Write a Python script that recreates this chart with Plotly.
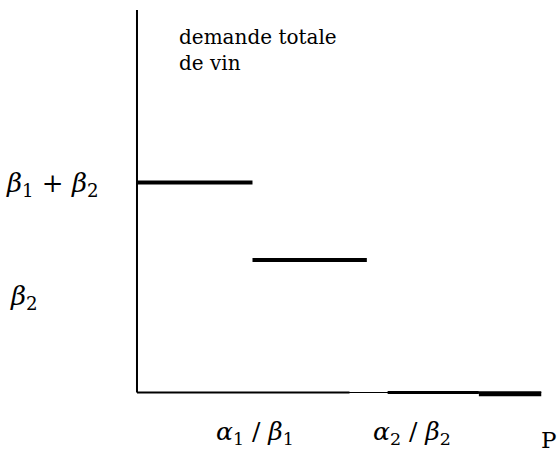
import plotly.graph_objects as go

# ---- data (price breakpoints and demand levels) ----
price_breaks = [0.0, 1.0, 2.0]          # 0, alpha1/beta1, alpha2/beta2
demand_levels = [2.1, 1.325, 0.0]       # beta1+beta2, beta2, 0
step1_x = [0.0, 1.0]
step2_x = [1.0, 1.99]
step3a_x = [2.17, 2.96]
step3b_x = [2.96, 3.5]
axis_x_thick = [0.0, 1.84]
axis_x_full = [0.0, 3.5]
axis_y_top = 3.825
x_range = [-1.186, 3.645]
y_range = [-0.625, 3.925]

label_y_top = "<i>β</i><sub>1</sub> + <i>β</i><sub>2</sub>"
label_y_mid = "<i>β</i><sub>2</sub>"
label_x1 = "<i>α</i><sub>1</sub> / <i>β</i><sub>1</sub>"
label_x2 = "<i>α</i><sub>2</sub> / <i>β</i><sub>2</sub>"
label_p = "P"
title_text = "demande totale<br>de vin"

SERIF = "DejaVu Serif"

fig = go.Figure()

def seg(xs, ys, w):
    fig.add_trace(go.Scatter(x=xs, y=ys, mode="lines",
                             line=dict(color="black", width=w),
                             hoverinfo="skip", showlegend=False))

# axes
seg([0.0, 0.0], [0.0, axis_y_top], 2)
seg(axis_x_full, [0.0, 0.0], 1)
seg(axis_x_thick, [0.0, 0.0], 2)
# steps
seg(step1_x, [demand_levels[0]] * 2, 4)
seg(step2_x, [demand_levels[1]] * 2, 4)
seg(step3a_x, [demand_levels[2]] * 2, 3)
seg(step3b_x, [demand_levels[2] - 0.013] * 2, 5)

ann = [
    dict(x=0, y=demand_levels[0], text=label_y_top, xanchor="center", yanchor="middle",
         xshift=-84, yshift=-2, font=dict(size=26)),
    dict(x=0, y=0.955, text=label_y_mid, xanchor="center", yanchor="middle",
         xshift=-113, font=dict(size=26)),
    dict(x=price_breaks[1], y=0, text=label_x1, xanchor="center", yanchor="middle",
         xshift=3, yshift=-40, font=dict(size=25)),
    dict(x=price_breaks[2], y=0, text=label_x2, xanchor="center", yanchor="middle",
         xshift=44, yshift=-40, font=dict(size=25)),
    dict(x=3.5, y=0, text=label_p, xanchor="left", yanchor="middle",
         xshift=-2, yshift=-47, font=dict(size=23)),
    dict(x=0.346, y=3.7, text=title_text, xanchor="left", yanchor="top",
         align="left", font=dict(size=20)),
]
for a in ann:
    a.update(xref="x", yref="y", showarrow=False)
    a["font"].update(family=SERIF, color="black")

fig.update_layout(
    width=558, height=455,
    margin=dict(l=0, r=0, t=0, b=0),
    font=dict(family=SERIF, color="black"),
    paper_bgcolor="white", plot_bgcolor="white",
    xaxis=dict(range=x_range, visible=False, fixedrange=True),
    yaxis=dict(range=y_range, visible=False, fixedrange=True),
    annotations=ann,
)

fig.write_html(
    "out.html",
    config={"displayModeBar": False},
    post_script="document.body.style.margin='0';document.body.style.overflow='hidden';",
)
